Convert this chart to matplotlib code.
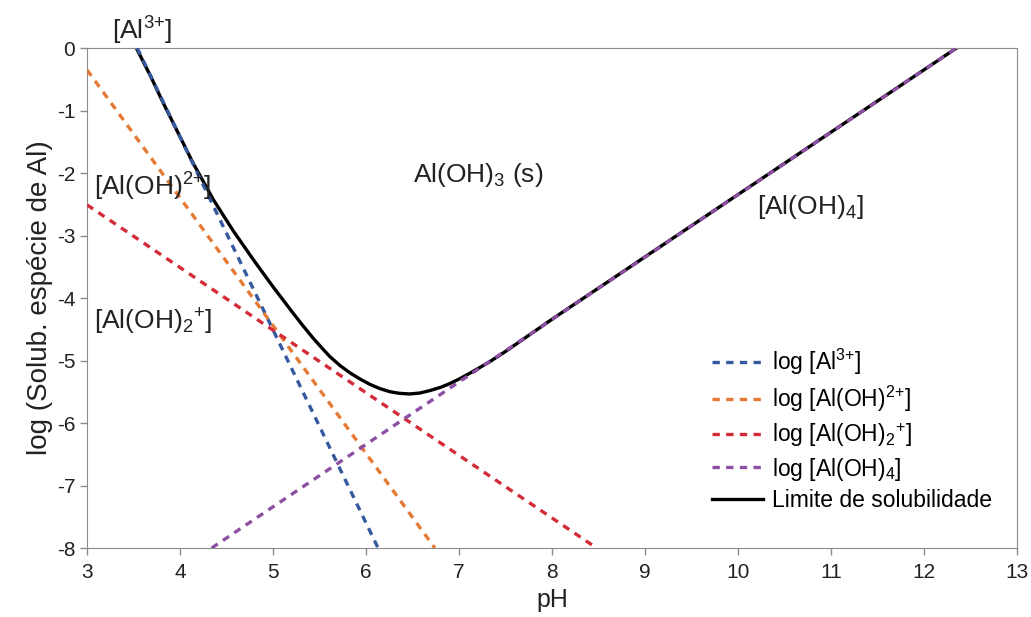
import matplotlib.pyplot as plt

plt.rcParams['font.family'] = ['Liberation Sans', 'DejaVu Sans']
plt.rcParams['mathtext.fontset'] = 'custom'
plt.rcParams['mathtext.rm'] = 'Liberation Sans'
plt.rcParams['mathtext.it'] = 'Liberation Sans'
plt.rcParams['axes.unicode_minus'] = False

# end points of the species lines (pH, log concentration)
PH_AL3 = [3.54, 6.13]
LOG_AL3 = [0.0, -8.0]
PH_ALOH = [3.0, 6.74]
LOG_ALOH = [-0.35, -8.0]
PH_ALOH2 = [3.0, 8.48]
LOG_ALOH2 = [-2.51, -8.0]
PH_ALOH4 = [4.34, 12.35]
LOG_ALOH4 = [-8.0, 0.0]

# solubility limit
PH_LIMIT = [3.53, 3.68, 3.82, 3.98, 4.14, 4.36, 4.57, 4.79, 5.00, 5.22, 5.32,
            5.43, 5.52, 5.61, 5.72, 5.83, 5.94, 6.04, 6.15, 6.26, 6.36, 6.47,
            6.58, 6.69, 6.80, 6.90, 7.01, 7.12, 7.22, 7.33, 7.50, 8.00, 12.35]
LOG_LIMIT = [0.0, -0.44, -0.88, -1.36, -1.84, -2.43, -2.92, -3.39, -3.82, -4.25,
             -4.44, -4.64, -4.79, -4.935, -5.08, -5.20, -5.30, -5.38, -5.45,
             -5.50, -5.525, -5.535, -5.52, -5.48, -5.43, -5.37, -5.29, -5.20,
             -5.115, -5.02, -4.855, -4.34, 0.0]

BLUE = '#35599f'
ORANGE = '#e57a35'
RED = '#d42b38'
PURPLE = '#8d4fa3'
GREY = '#8c8c8c'
INK = '#222222'

fig = plt.figure(figsize=(10.31, 6.17), dpi=100)
ax = fig.add_axes([0.0844, 0.1118, 0.902, 0.8104])

ax.plot(PH_LIMIT, LOG_LIMIT, color='black', lw=2.4, solid_joinstyle='round',
        label='Limite de solubilidade', zorder=2)
dash = dict(lw=2.4, dashes=(2.2, 1.9), zorder=3)
ax.plot(PH_AL3, LOG_AL3, color=BLUE, label='log [Al$^{3{+}}$]', **dash)
ax.plot(PH_ALOH, LOG_ALOH, color=ORANGE, label='log [Al(OH)$^{2{+}}$]', **dash)
ax.plot(PH_ALOH2, LOG_ALOH2, color=RED, label='log [Al(OH)$_2$$^{+}$]', **dash)
ax.plot(PH_ALOH4, LOG_ALOH4, color=PURPLE, label='log [Al(OH)$_4$]', **dash)

ax.set_xlim(3, 13)
ax.set_ylim(-8, 0)
ax.set_xticks(range(3, 14))
ax.set_yticks(range(-8, 1))
ax.tick_params(colors=GREY, labelcolor=INK, labelsize=15, length=5, width=1)
ax.tick_params(axis='x', pad=6)
for sp in ax.spines.values():
    sp.set_color(GREY)

ax.set_xlabel('pH', fontsize=18, color=INK, labelpad=4)
ax.set_ylabel('log (Solub. espécie de Al)', fontsize=20, color=INK, labelpad=3)

txt = dict(fontsize=19, color=INK, va='center')
ax.text(3.27, 0.28, '[Al$^{3{+}}$]', clip_on=False, **txt)
ax.text(3.08, -2.22, '[Al(OH)$^{2{+}}$]', **txt)
ax.text(3.08, -4.38, '[Al(OH)$_2$$^{+}$]', **txt)
ax.text(6.5, -2.03, 'Al(OH)$_3$ (s)', **txt)
ax.text(10.2, -2.55, '[Al(OH)$_4$]', **txt)

# legend order: species first, limit last
handles, labels = ax.get_legend_handles_labels()
order = [1, 2, 3, 4, 0]
ax.legend([handles[i] for i in order], [labels[i] for i in order],
          loc='lower right', bbox_to_anchor=(0.995, 0.03), frameon=False,
          fontsize=16.5, handlelength=2.2, labelspacing=0.3, handletextpad=0.4)

fig.savefig('out.png', dpi=100)
